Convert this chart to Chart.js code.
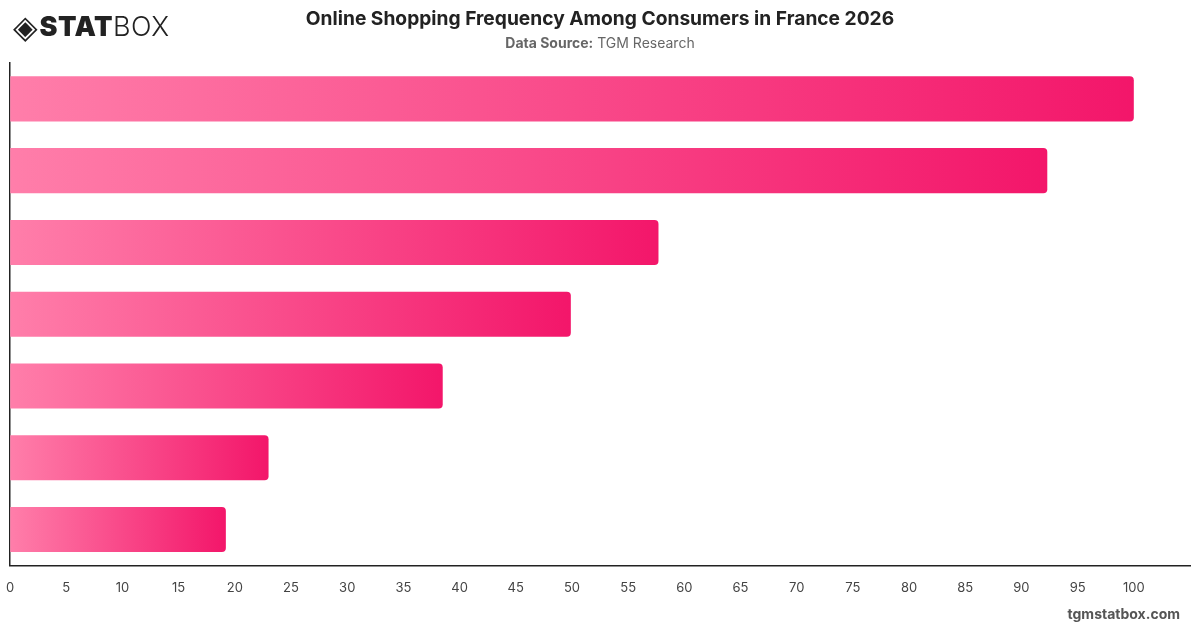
<!DOCTYPE html>
<html>
<head>
<meta charset="utf-8">
<script src="https://cdn.jsdelivr.net/npm/chart.js@4.4.1/dist/chart.umd.min.js"></script>
<style>
    html, body { margin: 0; padding: 0; background: #fff; }
    body { width: 1200px; height: 628px; position: relative; overflow: hidden; font-family: Inter, "Noto Sans", sans-serif; }
    #logo { position: absolute; left: 13px; top: 5px; font-size: 27px; color: #222; letter-spacing: 0.5px; }
    #logo .icon { font-size: 32px; position: relative; top: 2px; margin-right: 1px; }
    #logo b { font-weight: 900; }
    #logo span.light { font-weight: 300; }
    #title { position: absolute; top: 6px; left: 0; width: 1200px; text-align: center; font-size: 19.2px; font-weight: 700; color: #222; }
    #subtitle { position: absolute; top: 34px; left: 0; width: 1200px; text-align: center; font-size: 14px; color: #666; }
    #subtitle b { font-weight: 700; }
    #footer { position: absolute; right: 20px; top: 605px; font-size: 14px; font-weight: 700; color: #555; }
    #wrap { position: absolute; left: -9px; top: 0; width: 1214px; height: 628px; }
</style>
</head>
<body>
<div id="wrap"><canvas id="chart" width="1214" height="628"></canvas></div>
<div id="logo"><span class="icon">&#x25C8;</span><b>STAT</b><span class="light">BOX</span></div>
<div id="title">Online Shopping Frequency Among Consumers in France 2026</div>
<div id="subtitle"><b>Data Source:</b> TGM Research</div>
<div id="footer">tgmstatbox.com</div>
<script>
// chart data
const categories = ['Once a month', 'Several times a month', 'Once a week', 'Every few months', 'Several times a week', 'Once a year or less', 'Daily'];
const values = [100, 92.3, 57.7, 49.9, 38.5, 23.0, 19.2];

const ctx = document.getElementById('chart').getContext('2d');

function barGradient(context) {
    const chart = context.chart;
    if (!chart.chartArea) return '#f5186b';
    const xScale = chart.scales.x;
    const x0 = xScale.getPixelForValue(0);
    const x1 = xScale.getPixelForValue(context.raw || 0);
    if (!isFinite(x0) || !isFinite(x1) || x1 <= x0) return '#f5186b';
    const g = chart.ctx.createLinearGradient(x0, 0, x1, 0);
    g.addColorStop(0, '#ff7eaa');
    g.addColorStop(1, '#f3166a');
    return g;
}

new Chart(ctx, {
    type: 'bar',
    data: {
        labels: categories,
        datasets: [{
            data: values,
            backgroundColor: barGradient,
            borderRadius: 4,
            borderSkipped: 'start',
            categoryPercentage: 0.8,
            barPercentage: 0.785
        }]
    },
    options: {
        indexAxis: 'y',
        responsive: false,
        animation: false,
        layout: { padding: { top: 63, left: 1, right: 5, bottom: 17 } },
        plugins: {
            legend: { display: false },
            tooltip: { enabled: true }
        },
        scales: {
            x: {
                min: 0,
                max: 105,
                grid: { display: false, drawTicks: false },
                border: { display: true, color: '#222', width: 1.5 },
                ticks: {
                    stepSize: 5,
                    padding: 15,
                    color: '#444',
                    font: { family: 'Inter', size: 13 },
                    callback: v => (v > 100 ? '' : v)
                }
            },
            y: {
                grid: { display: false, drawTicks: false },
                border: { display: true, color: '#222', width: 1.5 },
                ticks: { display: false }
            }
        }
    }
});
</script>
</body>
</html>
